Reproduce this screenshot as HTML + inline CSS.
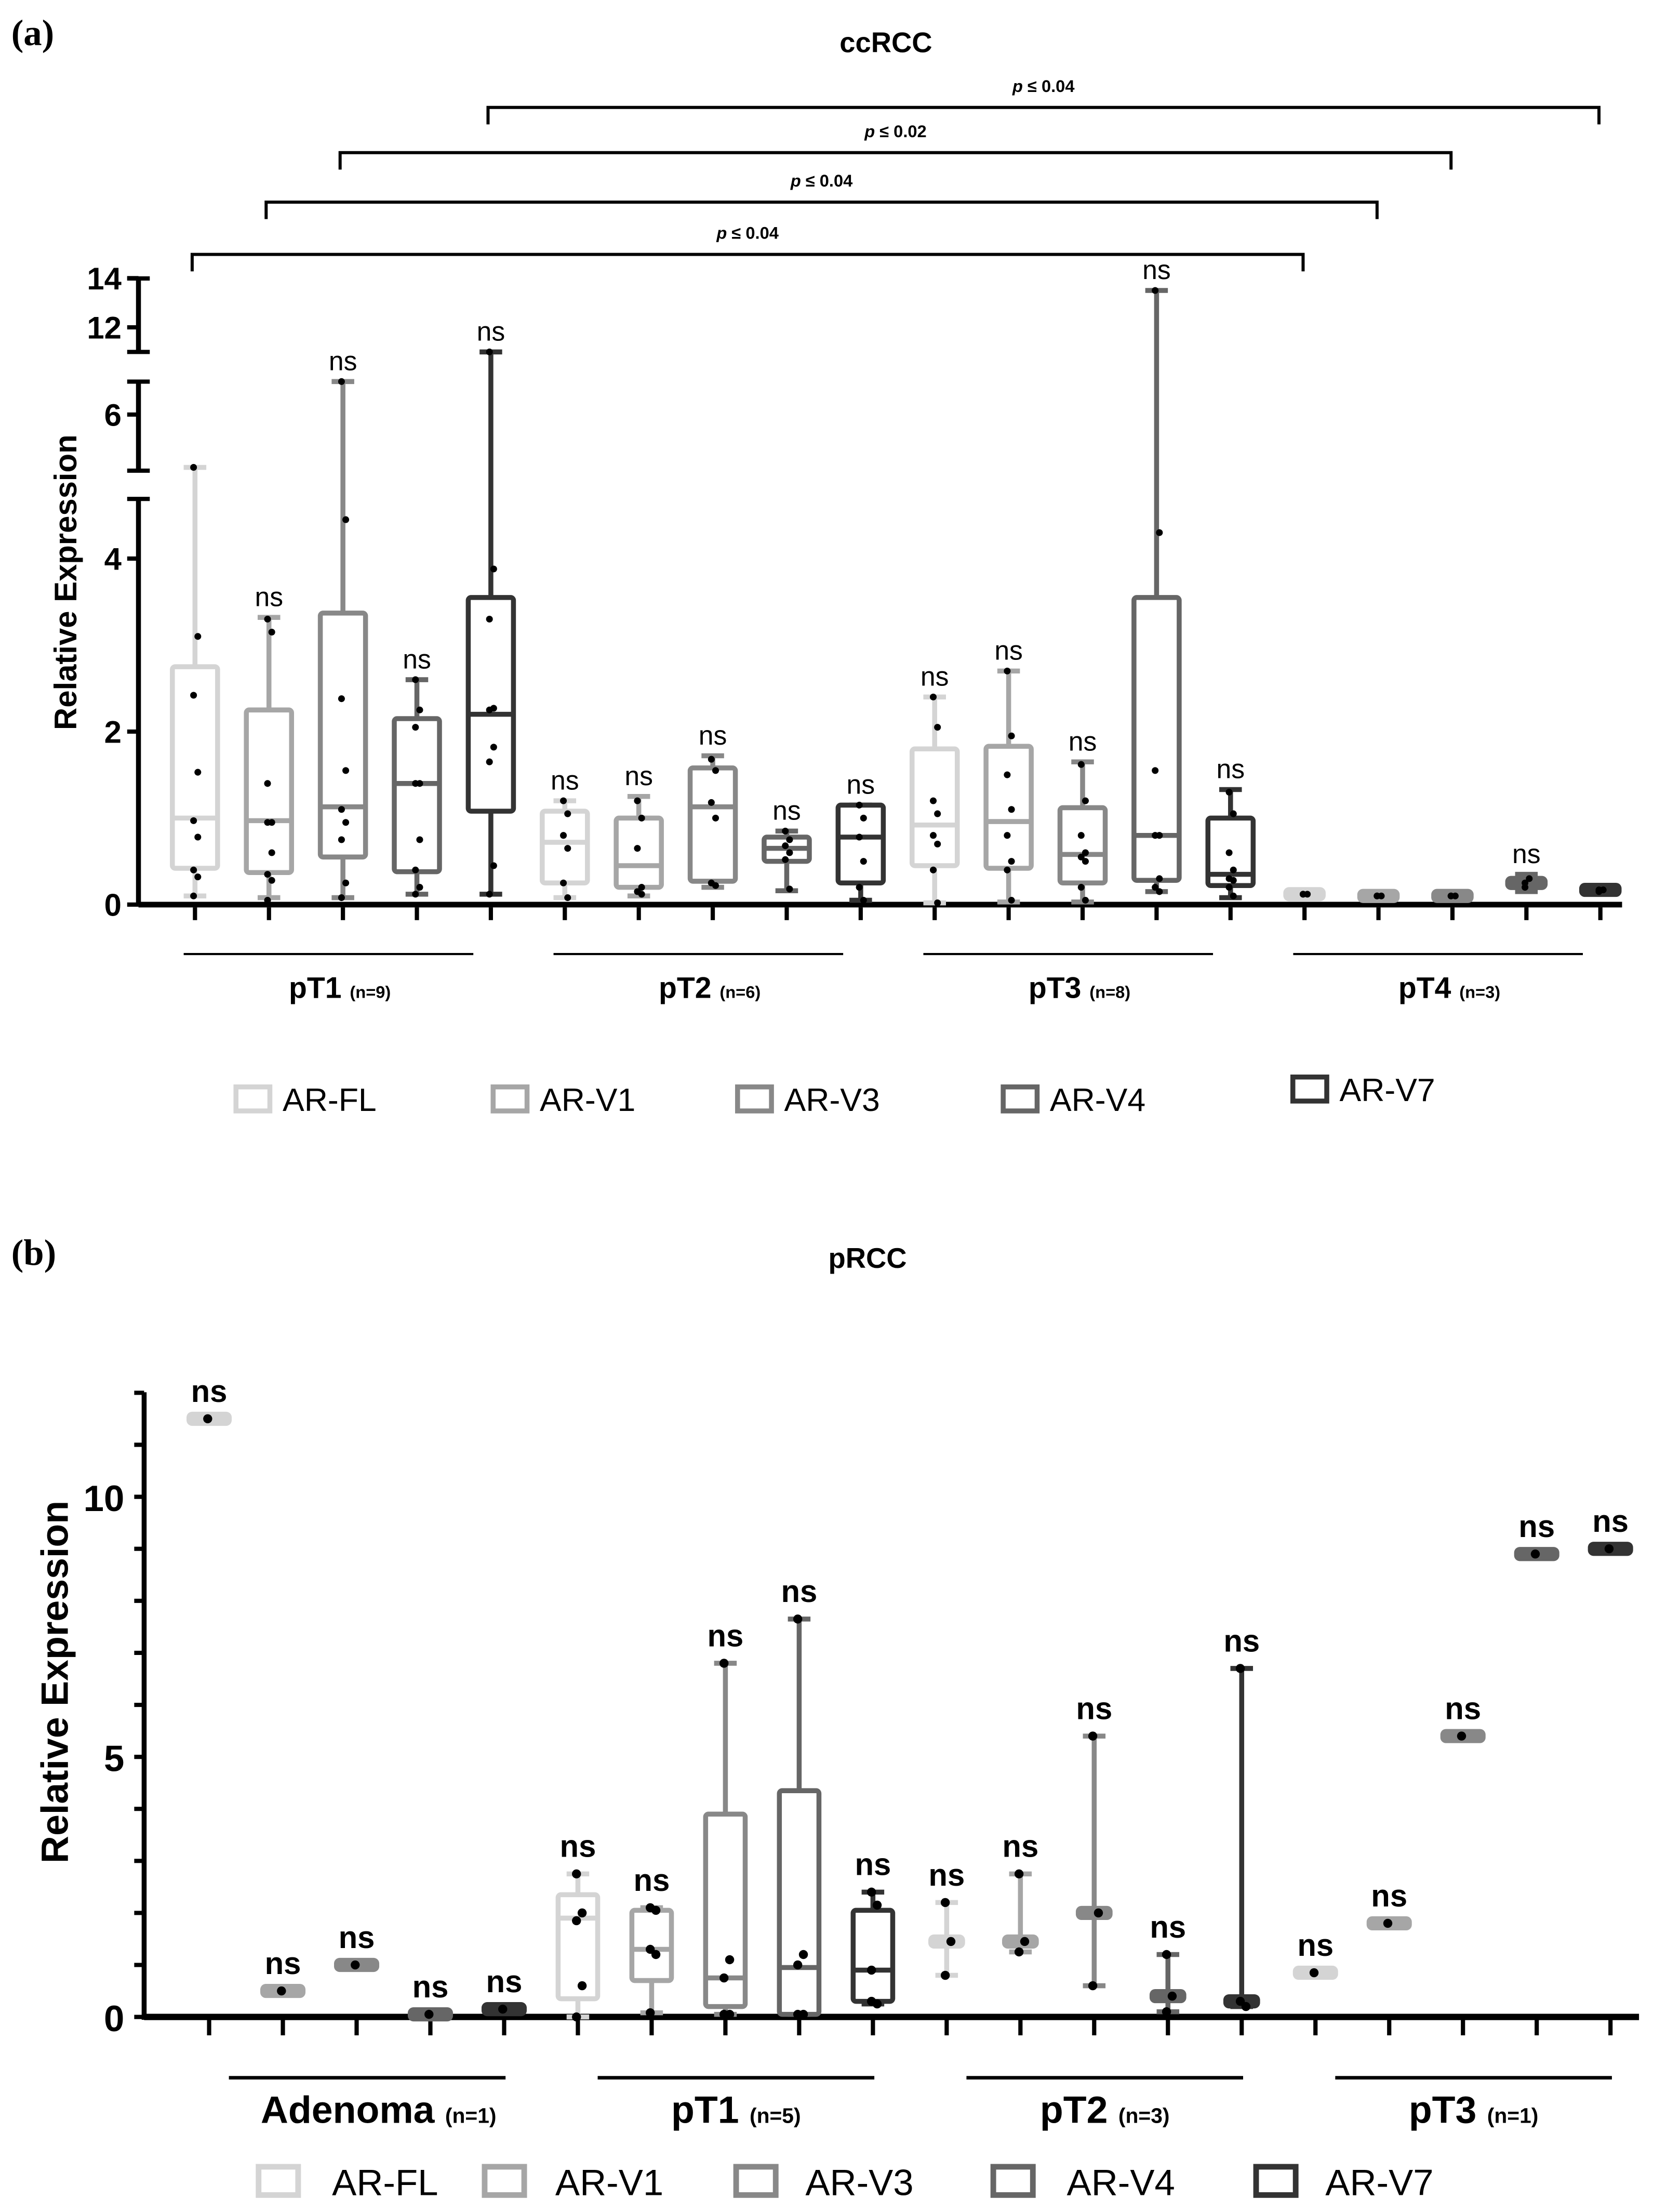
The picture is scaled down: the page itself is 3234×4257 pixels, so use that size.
<!DOCTYPE html>
<html><head><meta charset="utf-8"><style>
html,body{margin:0;padding:0;background:#fff}
svg{display:block}
text{font-family:"Liberation Sans",Arial,sans-serif}
</style></head><body>
<svg id="chart" xmlns="http://www.w3.org/2000/svg" width="3234" height="4257" viewBox="0 0 1189 1565" preserveAspectRatio="none">
<rect width="1189" height="1565" fill="#fff"/>
<text x="8" y="32" style="font-family:'Liberation Serif',serif" font-weight="bold" font-size="26">(a)</text>
<text x="627" y="37" text-anchor="middle" font-weight="bold" font-size="20">ccRCC</text>
<text x="8" y="895" style="font-family:'Liberation Serif',serif" font-weight="bold" font-size="26">(b)</text>
<text x="614" y="897" text-anchor="middle" font-weight="bold" font-size="20">pRCC</text>
<g id="ga"></g><g id="gb"></g>
</svg>
<script>
const NS="http://www.w3.org/2000/svg";
const series=["AR-FL","AR-V1","AR-V3","AR-V4","AR-V7"];
const colors=["#d4d4d4","#a6a6a6","#888888","#666666","#333333"];
// Panel A data: [min,q1,median,q3,max]
const groupsA=["pT1","pT2","pT3","pT4"];
const nA=["(n=9)","(n=6)","(n=8)","(n=3)"];
const boxesA=[
 [[0.1,0.42,1.0,2.75,5.2],[0.08,0.37,0.97,2.25,3.32],[0.08,0.55,1.13,3.37,6.5],[0.12,0.38,1.4,2.15,2.6],[0.12,1.08,2.2,3.55,11]],
 [[0.08,0.25,0.72,1.08,1.2],[0.1,0.2,0.45,1.0,1.25],[0.2,0.27,1.13,1.58,1.72],[0.16,0.5,0.65,0.78,0.85],[0.05,0.25,0.78,1.15,1.15]],
 [[0.02,0.45,0.92,1.8,2.4],[0.03,0.42,0.96,1.83,2.7],[0.03,0.25,0.58,1.12,1.65],[0.15,0.28,0.8,3.55,13.5],[0.08,0.22,0.35,1.0,1.33]],
 [[0.1,0.1,0.12,0.14,0.14],[0.08,0.09,0.1,0.11,0.12],[0.08,0.09,0.1,0.11,0.12],[0.15,0.2,0.25,0.3,0.35],[0.12,0.15,0.17,0.2,0.22]]
];
const pointsA=[
 [[5.2,3.1,2.42,1.53,0.97,0.78,0.4,0.32,0.1],[3.3,3.15,1.4,0.95,0.95,0.6,0.35,0.28,0.05],[6.5,4.45,2.38,1.55,1.1,0.95,0.75,0.25,0.08],[2.6,2.25,2.05,1.4,1.4,0.75,0.4,0.2,0.12],[11,3.88,3.3,2.27,2.25,1.82,1.65,0.45,0.12]],
 [[1.2,1.05,0.8,0.65,0.25,0.08],[1.2,1.0,0.65,0.2,0.15,0.12],[1.68,1.55,1.18,1.0,0.25,0.22],[0.85,0.75,0.68,0.6,0.52,0.18],[1.15,1.0,0.78,0.5,0.2,0.05]],
 [[2.4,2.05,1.2,1.05,0.8,0.7,0.4,0.02],[2.7,1.95,1.5,1.1,0.8,0.5,0.4,0.05],[1.62,1.2,0.8,0.6,0.55,0.5,0.2,0.05],[13.5,4.3,1.55,0.8,0.8,0.3,0.2,0.15],[1.3,1.05,0.6,0.4,0.3,0.28,0.2,0.1]],
 [[0.12,0.12,0.12],[0.1,0.1,0.1],[0.1,0.1,0.1],[0.25,0.3,0.2],[0.17,0.17,0.15]]
];
const nsA=[[0,1,1,1,1],[1,1,1,1,1],[1,1,1,1,1],[0,0,0,1,0]];
const sigLabels=["p ≤ 0.04","p ≤ 0.04","p ≤ 0.02","p ≤ 0.04"];
const sigPairs=[[0,15],[1,16],[2,17],[4,19]];
const ticksA=[0,2,4,6,12,14];
// Panel B data
const groupsB=["Adenoma","pT1","pT2","pT3"];
const nB=["(n=1)","(n=5)","(n=3)","(n=1)"];
const boxesB=[
 [[11.5,11.5,11.5,11.5,11.5],[0.5,0.5,0.5,0.5,0.5],[1.0,1.0,1.0,1.0,1.0],[0.05,0.05,0.05,0.05,0.05],[0.15,0.15,0.15,0.15,0.15]],
 [[0,0.35,1.9,2.35,2.75],[0.08,0.7,1.3,2.05,2.1],[0.05,0.2,0.75,3.9,6.8],[0.05,0.05,0.95,4.35,7.65],[0.25,0.3,0.9,2.05,2.4]],
 [[0.8,1.45,1.45,1.45,2.2],[1.25,1.45,1.45,1.45,2.75],[0.6,2.0,2.0,2.0,5.4],[0.1,0.4,0.4,0.4,1.2],[0.2,0.3,0.3,0.3,6.7]],
 [[0.85,0.85,0.85,0.85,0.85],[1.8,1.8,1.8,1.8,1.8],[5.4,5.4,5.4,5.4,5.4],[8.9,8.9,8.9,8.9,8.9],[9.0,9.0,9.0,9.0,9.0]]
];
const pointsB=[
 [[11.5],[0.5],[1.0],[0.05],[0.15]],
 [[2.75,2.0,1.85,0.6,0],[2.1,2.05,1.3,1.2,0.08],[6.8,1.1,0.75,0.05,0.05],[7.65,1.2,1.0,0.05,0.05],[2.4,2.15,0.9,0.25,0.3]],
 [[2.2,1.45,0.8],[2.75,1.45,1.25],[5.4,2.0,0.6],[1.2,0.4,0.1],[6.7,0.2,0.3]],
 [[0.85],[1.8],[5.4],[8.9],[9.0]]
];
const ticksB=[0,5,10];

function el(tag,attrs,parent,txt){const e=document.createElementNS(NS,tag);for(const k in attrs)e.setAttribute(k,attrs[k]);if(txt!==undefined)e.textContent=txt;parent.appendChild(e);return e;}

function yA(v){
 if(v<=4.75) return 640-v*61.2;
 if(v<=6.6) return 333-(v-5.15)*46.7;
 return 249-(v-11)*17.4;
}
function xA(i){return 138+i*52.35;}
function yB(v){return 1427-v*36.8;}
function xB(i){return 148+i*52.2;}

// ---- Panel A ----
const ga=document.getElementById('ga');
[[197,249],[270,333],[353,640]].forEach(s=>{
 const l=el('line',{x1:98,y1:s[0],x2:98,y2:s[1],stroke:'#000','stroke-width':3.5},ga);
 
 
 [s[0],s[1]].forEach(y=>{if(y!==640){el('line',{x1:90,y1:y,x2:106,y2:y,stroke:'#000','stroke-width':3},ga);}});
});
ticksA.forEach(t=>{
 const y=yA(t);
 el('line',{x1:90,y1:y,x2:98,y2:y,stroke:'#000','stroke-width':3},ga);
 const tx=el('text',{x:86,y:y+8,'text-anchor':'end','font-size':22,'font-weight':'bold'},ga,t);
 
 
});
{const xl=el('line',{x1:98,y1:640,x2:1148,y2:640,stroke:'#000','stroke-width':4},ga);

}
{const yt=el('text',{x:0,y:0,transform:'translate(54,412) rotate(-90)','text-anchor':'middle','font-size':22,'font-weight':'bold'},ga,'Relative Expression');

}

function drawBox(g,x,b,col,yf,w,sw,flat,name){
 const grp=el('g',{},g);
 
 
 if(flat){
  el('line',{x1:x,y1:yf(b[0]),x2:x,y2:yf(b[4]),stroke:col,'stroke-width':sw},grp);
  el('line',{x1:x-8,y1:yf(b[0]),x2:x+8,y2:yf(b[0]),stroke:col,'stroke-width':sw},grp);
  el('line',{x1:x-8,y1:yf(b[4]),x2:x+8,y2:yf(b[4]),stroke:col,'stroke-width':sw},grp);
  el('rect',{x:x-w/2,y:yf(b[2])-5,width:w,height:10,rx:4,fill:col},grp);
  return;
 }
 el('line',{x1:x,y1:yf(b[0]),x2:x,y2:yf(b[4]),stroke:col,'stroke-width':sw},grp);
 el('line',{x1:x-8,y1:yf(b[0]),x2:x+8,y2:yf(b[0]),stroke:col,'stroke-width':sw},grp);
 el('line',{x1:x-8,y1:yf(b[4]),x2:x+8,y2:yf(b[4]),stroke:col,'stroke-width':sw},grp);
 const top=yf(b[3]),bot=yf(b[1]);
 el('rect',{x:x-w/2,y:top,width:w,height:Math.max(bot-top,2),rx:2,fill:'#fff',stroke:col,'stroke-width':sw},grp);
 el('line',{x1:x-w/2,y1:yf(b[2]),x2:x+w/2,y2:yf(b[2]),stroke:col,'stroke-width':sw},grp);
}

for(let g=0;g<4;g++){
 for(let s=0;s<5;s++){
  const i=g*5+s,x=xA(i),b=boxesA[g][s];
  el('line',{x1:x,y1:642,x2:x,y2:651,stroke:'#000','stroke-width':3},ga);
  drawBox(ga,x,b,colors[s],yA,g===3?30:32,3.5,g===3,'box-'+groupsA[g]+'-'+series[s]);
  pointsA[g][s].forEach((v,k)=>{
   const p=el('circle',{cx:x+(k%2?2:-1),cy:yA(v),r:2.4,fill:'#000'},ga);
   
   
  });
  if(nsA[g][s]){
   const t=el('text',{x:x,y:yA(b[4])-8,'text-anchor':'middle','font-size':19},ga,'ns');
   
   
  }
 }
 const x0=xA(g*5)-8,x1=x0+205;
 el('line',{x1:x0,y1:675,x2:x1,y2:675,stroke:'#000','stroke-width':1.5},ga);
 const gl=el('text',{x:(x0+x1)/2+8,y:706,'text-anchor':'middle','font-size':21,'font-weight':'bold'},ga);
 
 
 el('tspan',{},gl,groupsA[g]+' ');
 el('tspan',{'font-size':12},gl,nA[g]);
}
const bY=[180,143,108,76];
sigPairs.forEach((p,k)=>{
 const x0=xA(p[0])-2,x1=xA(p[1])-1,y=bY[k];
 const br=el('path',{d:`M${x0} ${y+12}V${y}H${x1}V${y+12}`,fill:'none',stroke:'#000','stroke-width':2.2},ga);
 
 
 const t=el('text',{x:(x0+x1)/2,y:y-11,'text-anchor':'middle','font-size':12,'font-weight':'bold'},ga);
 
 
 el('tspan',{'font-style':'italic'},t,'p');
 el('tspan',{},t,sigLabels[k].slice(1));
});
const legAx=[[167,200],[349,382],[522,555],[710,743],[915,948]];
const legAy=[778,778,778,778,771];
series.forEach((s,i)=>{
 const g=el('g',{},ga);
 
 
 el('rect',{x:legAx[i][0],y:legAy[i]-9,width:24,height:17,fill:'#fff',stroke:colors[i],'stroke-width':3.5},g);
 el('text',{x:legAx[i][1],y:legAy[i]+8,'font-size':23},g,s);
});

// ---- Panel B ----
const gb=document.getElementById('gb');
{const l=el('line',{x1:102,y1:985,x2:102,y2:1429,stroke:'#000','stroke-width':3.5},gb);

}
for(let v=0;v<=12;v++){
 el('line',{x1:95,y1:yB(v),x2:102,y2:yB(v),stroke:'#000','stroke-width':3},gb);
}
ticksB.forEach(t=>{
 const tx=el('text',{x:88,y:yB(t)+10,'text-anchor':'end','font-size':26,'font-weight':'bold'},gb,t);
 
 
});
{const xl=el('line',{x1:102,y1:1427,x2:1160,y2:1427,stroke:'#000','stroke-width':4.5},gb);

}
{const yt=el('text',{x:0,y:0,transform:'translate(48,1190) rotate(-90)','text-anchor':'middle','font-size':27,'font-weight':'bold'},gb,'Relative Expression');

}
for(let g=0;g<4;g++){
 for(let s=0;s<5;s++){
  const i=g*5+s,x=xB(i),b=boxesB[g][s];
  el('line',{x1:x,y1:1429,x2:x,y2:1440,stroke:'#000','stroke-width':3},gb);
  const flat=(b[1]===b[3]);
  drawBox(gb,x,b,colors[s],yB,g===1?28:(g===2?26:32),3.5,flat,'box-b-'+groupsB[g]+'-'+series[s]);
  pointsB[g][s].forEach((v,k)=>{
   const p=el('circle',{cx:x+(k%2?3:-1),cy:yB(v),r:3.2,fill:'#000'},gb);
   
   
  });
  const t=el('text',{x:x,y:yB(b[4])-12,'text-anchor':'middle','font-size':22,'font-weight':'bold'},gb,'ns');
  
  
 }
 const x0=xB(g*5)+14,x1=xB(g*5+4)+1;
 el('line',{x1:x0,y1:1470,x2:x1,y2:1470,stroke:'#000','stroke-width':2.5},gb);
 const gl=el('text',{x:(x0+x1)/2+(g===0?8:0),y:1502,'text-anchor':'middle','font-size':27,'font-weight':'bold'},gb);
 
 
 el('tspan',{},gl,groupsB[g]+' ');
 el('tspan',{'font-size':15},gl,nB[g]);
}
const legBx=[[183,235],[343,393],[521,570],[703,755],[889,938]];
series.forEach((s,i)=>{
 const g=el('g',{},gb);
 
 
 el('rect',{x:legBx[i][0],y:1533,width:28,height:20,fill:'#fff',stroke:colors[i],'stroke-width':4},g);
 el('text',{x:legBx[i][1],y:1553,'font-size':26},g,s);
});
</script>
</body></html>
